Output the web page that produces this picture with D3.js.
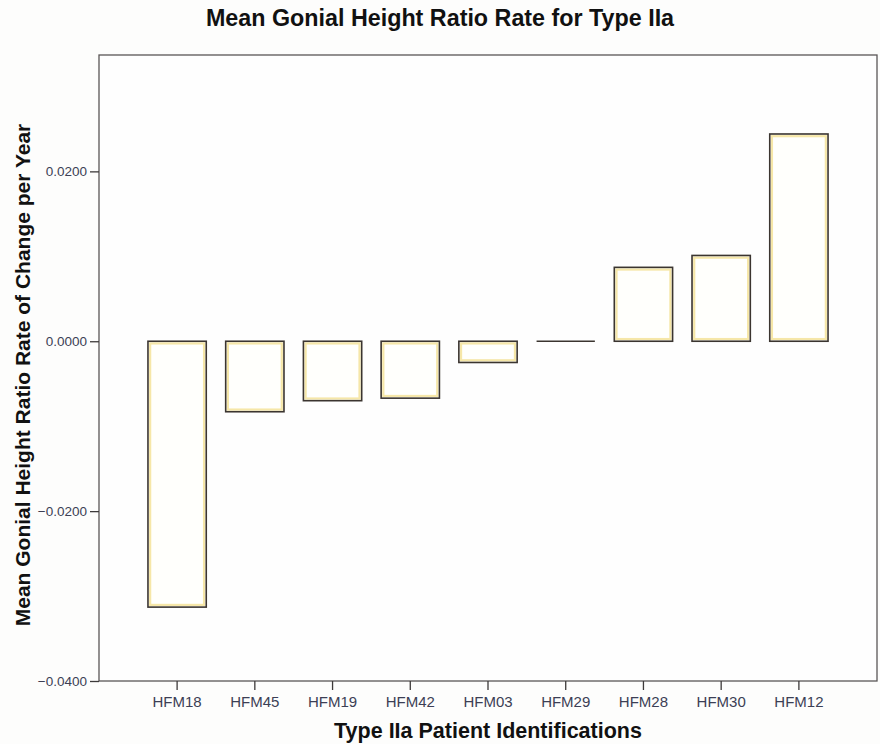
<!DOCTYPE html>
<html>
<head>
<meta charset="utf-8">
<script src="https://cdn.jsdelivr.net/npm/d3@7"></script>
<style>
  html, body { margin: 0; padding: 0; background: #fdfdfc; }
  svg { display: block; font-family: "Liberation Sans", Arial, sans-serif; }
</style>
</head>
<body>
<svg id="chart" width="880" height="744"></svg>
<script>
// Patients (ordered by rate) and their mean gonial height ratio change per year
const patients = ["HFM18", "HFM45", "HFM19", "HFM42", "HFM03", "HFM29", "HFM28", "HFM30", "HFM12"];
const rates = [-0.0313, -0.0083, -0.0070, -0.0067, -0.0025, 0.0000, 0.0087, 0.0101, 0.0244];
const yTicks = [-0.04, -0.02, 0.0, 0.02];

const titleText = "Mean Gonial Height Ratio Rate for Type IIa";
const xTitle = "Type IIa Patient Identifications";
const yTitle = "Mean Gonial Height Ratio Rate of Change per Year";

const data = patients.map((id, i) => ({ id, v: rates[i] }));

const svg = d3.select("#chart");
const plotLeft = 99, plotRight = 877, plotTop = 55, plotBottom = 681;

const x = d3.scaleBand()
  .domain(patients)
  .range([plotLeft, plotRight])
  .paddingInner(0.25)
  .paddingOuter(0.63);

const y = d3.scaleLinear()
  .domain([-0.04, 0.0337])
  .range([plotBottom, plotTop]);

// Plot frame
svg.append("rect")
  .attr("x", plotLeft).attr("y", plotTop)
  .attr("width", plotRight - plotLeft).attr("height", plotBottom - plotTop)
  .attr("fill", "#fefefe")
  .attr("stroke", "#5a5656").attr("stroke-width", 1.3);

const barTop = d => Math.min(y(d.v), y(0));
const barH = d => Math.abs(y(d.v) - y(0));

// Bars: soft warm inner edge under a dark outline
const bars = svg.append("g").selectAll("g").data(data).join("g");
bars.filter(d => barH(d) > 0.5).append("rect")
  .attr("x", d => x(d.id))
  .attr("y", barTop)
  .attr("width", x.bandwidth())
  .attr("height", barH)
  .attr("fill", "#fffffc")
  .attr("stroke", "none");
bars.filter(d => barH(d) > 5).append("rect")
  .attr("x", d => x(d.id) + 2.2)
  .attr("y", d => barTop(d) + 2.2)
  .attr("width", x.bandwidth() - 4.4)
  .attr("height", d => barH(d) - 4.4)
  .attr("fill", "none")
  .attr("stroke", "#f6e7a8").attr("stroke-width", 2.2);
bars.filter(d => barH(d) > 0.5).append("rect")
  .attr("x", d => x(d.id))
  .attr("y", barTop)
  .attr("width", x.bandwidth())
  .attr("height", barH)
  .attr("fill", "none")
  .attr("stroke", "#3b3530").attr("stroke-width", 1.6);
// A zero-valued bar collapses to a single line on the baseline
bars.filter(d => barH(d) <= 0.5).append("line")
  .attr("x1", d => x(d.id))
  .attr("x2", d => x(d.id) + x.bandwidth())
  .attr("y1", d => y(d.v)).attr("y2", d => y(d.v))
  .attr("stroke", "#3b3530").attr("stroke-width", 1.6);

// Y axis
const yAxis = d3.axisLeft(y).tickValues(yTicks).tickFormat(d3.format(".4f")).tickSize(9).tickSizeOuter(0);
const yg = svg.append("g").attr("transform", `translate(${plotLeft},0)`).call(yAxis);
yg.select(".domain").remove();
yg.selectAll(".tick line").attr("stroke", "#3d3a3a").attr("stroke-width", 1.3);
yg.selectAll(".tick text").attr("fill", "#3c3f55").attr("font-size", 13.5)
  .attr("x", -12).attr("font-family", "'Liberation Sans', Arial, sans-serif");

// X axis
const xAxis = d3.axisBottom(x).tickSize(9).tickSizeOuter(0);
const xg = svg.append("g").attr("transform", `translate(0,${plotBottom})`).call(xAxis);
xg.select(".domain").remove();
xg.selectAll(".tick line").attr("stroke", "#3d3a3a").attr("stroke-width", 1.3);
xg.selectAll(".tick text").attr("fill", "#3c3f55").attr("font-size", 15)
  .attr("y", 15).attr("font-family", "'Liberation Sans', Arial, sans-serif");

// Titles
svg.append("text")
  .attr("x", 440).attr("y", 26)
  .attr("text-anchor", "middle")
  .attr("font-size", 23.3).attr("font-weight", "bold").attr("fill", "#111")
  .text(titleText);

svg.append("text")
  .attr("x", (plotLeft + plotRight) / 2).attr("y", 738)
  .attr("text-anchor", "middle")
  .attr("font-size", 21.5).attr("font-weight", "bold").attr("fill", "#111")
  .text(xTitle);

svg.append("text")
  .attr("transform", `translate(30,375) rotate(-90)`)
  .attr("text-anchor", "middle")
  .attr("font-size", 21).attr("font-weight", "bold").attr("fill", "#111")
  .text(yTitle);
</script>
</body>
</html>
